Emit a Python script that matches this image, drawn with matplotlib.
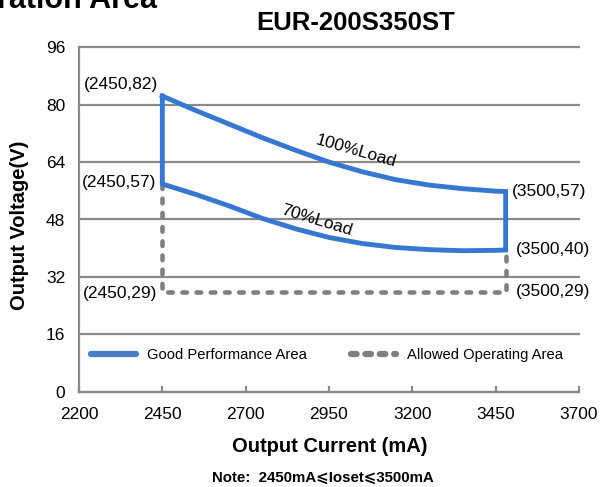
import matplotlib
matplotlib.use("Agg")
import matplotlib.pyplot as plt
from matplotlib.lines import Line2D

plt.rcParams['font.family'] = ['Liberation Sans', 'DejaVu Sans']

# ---- data ----
x_ticks = [2200, 2450, 2700, 2950, 3200, 3450, 3700]
y_ticks = [0, 16, 32, 48, 64, 80, 96]

x_100 = [2450, 2550, 2650, 2750, 2850, 2950, 3050, 3150, 3250, 3350, 3450, 3480]
v_100 = [82.4, 78.4, 74.6, 70.8, 67.3, 64.0, 61.3, 59.1, 57.6, 56.6, 55.9, 55.8]

x_70 = [2450, 2550, 2650, 2750, 2850, 2950, 3050, 3150, 3250, 3350, 3450, 3480]
v_70 = [57.9, 55.0, 51.8, 48.3, 45.4, 43.0, 41.3, 40.2, 39.6, 39.3, 39.4, 39.5]

x_allowed = [2450, 2450, 3480, 3480]
v_allowed = [57.9, 27.9, 27.9, 39.5]

point_labels = ['(2450,82)', '(2450,57)', '(2450,29)', '(3500,57)', '(3500,40)', '(3500,29)']
point_x = [2450, 2450, 2450, 3480, 3480, 3480]
point_y = [82.4, 57.9, 27.9, 55.8, 39.5, 27.9]

blue = '#3677D2'
gray = '#7F7F7F'
grid_c = '#8A8A8A'

W, H = 601, 487
fig = plt.figure(figsize=(W / 100, H / 100), dpi=100)
ax = fig.add_axes([79 / W, 1 - 391.7 / H, 500 / W, (391.7 - 47.3) / H])

# allowed operating area (dashed)
ax.plot(x_allowed, v_allowed, color=gray, lw=3.3, linestyle=(0, (1.0, 2.1)),
        dash_capstyle='round', zorder=2)

# good performance area (closed outline)
poly_x = x_100 + x_70[::-1] + [x_100[0]]
poly_y = v_100 + v_70[::-1] + [v_100[0]]
ax.plot(poly_x, poly_y, color=blue, lw=3.5, solid_joinstyle='miter', zorder=3)

ax.set_xlim(2200, 3700)
ax.set_ylim(0, 96)
ax.set_xticks(x_ticks)
ax.set_yticks(y_ticks)
ax.tick_params(axis='x', direction='in', length=4.3, width=1.6, color=grid_c,
               labelsize=12.5, pad=11)
ax.tick_params(axis='y', length=0, labelsize=12.5, pad=10)
for s in ['top', 'right']:
    ax.spines[s].set_visible(False)
for s in ['left', 'bottom']:
    ax.spines[s].set_color(grid_c)
    ax.spines[s].set_linewidth(1.6)
ax.grid(axis='y', color=grid_c, lw=1.6, zorder=1)
ax.set_axisbelow(True)
for gl in ax.get_ygridlines():
    gl.set_clip_on(False)

# point labels
offsets = [(-4, 12), (-6, 1), (-5, -1.5), (6.5, 0), (10, 0), (10, 0)]
for lab, px, py, (dx, dy) in zip(point_labels, point_x, point_y, offsets):
    ax.annotate(lab, (px, py), xytext=(dx * 0.72, dy * 0.72), textcoords='offset points',
                ha='right' if dx < 0 else 'left', va='center', fontsize=12.5,
                annotation_clip=False)

ax.text(3030, 67.0, '100%Load', rotation=-16, ha='center', va='center', fontsize=12.5,
        rotation_mode='anchor')
ax.text(2912, 47.6, '70%Load', rotation=-17, ha='center', va='center', fontsize=12.5,
        rotation_mode='anchor')

# legend
handles = [Line2D([], [], color='#4A7EC6', lw=4.5, solid_capstyle='round'),
           Line2D([], [], color=gray, lw=4.5, linestyle=(0, (0.9, 1.4)), dash_capstyle='round')]
ax.legend(handles, ['Good Performance Area', 'Allowed Operating Area'], ncol=2,
          loc='center left', bbox_to_anchor=(0.0, 0.107), frameon=False, fontsize=10.6,
          handlelength=3.1, handletextpad=0.7, columnspacing=3.0, borderaxespad=0.4)

# texts
fig.text(356 / W, 1 - 23 / H, 'EUR-200S350ST', ha='center', va='center',
         fontsize=18.5, fontweight='bold')
fig.text(-3 / W, 1 - 7.5 / H, 'ration Area', ha='left', va='baseline',
         fontsize=22, fontweight='bold')
fig.text(20 / W, 1 - 225 / H, 'Output Voltage(V)', rotation=90, ha='center', va='center',
         fontsize=14.5, fontweight='bold')
fig.text(330 / W, 1 - 447 / H, 'Output Current (mA)', ha='center', va='center',
         fontsize=14.5, fontweight='bold')
fig.text(323 / W, 1 - 478 / H, 'Note:  2450mA\u2a7dIoset\u2a7d3500mA', ha='center', va='center',
         fontsize=10.8, fontweight='bold')

fig.savefig('out.png', dpi=100)
